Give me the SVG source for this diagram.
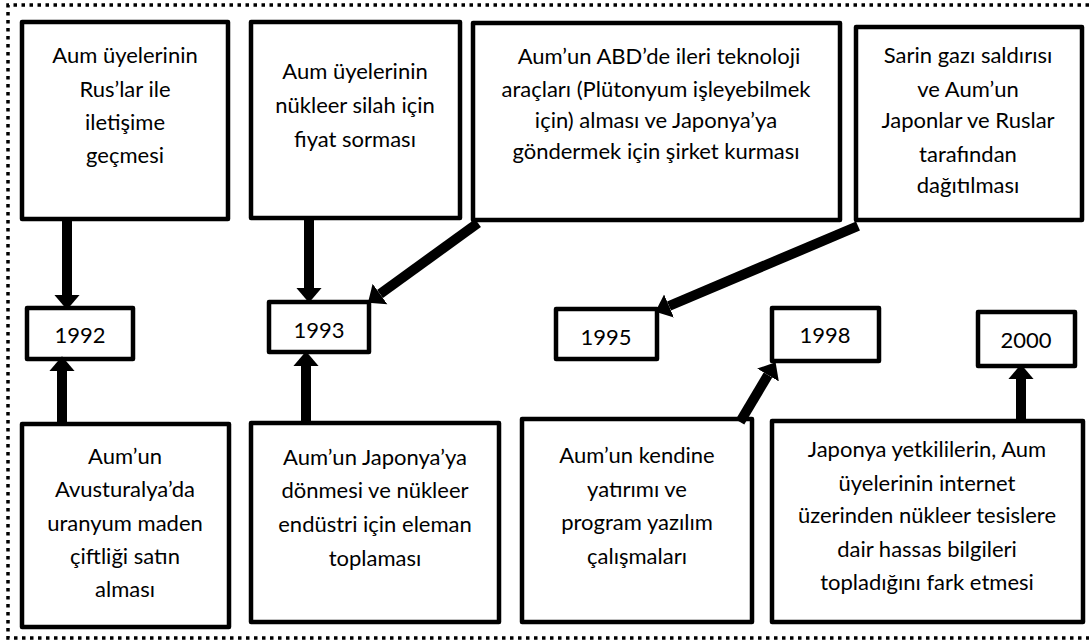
<svg xmlns="http://www.w3.org/2000/svg" width="1089" height="643" viewBox="0 0 1089 643">
<defs>
<style>
.box{fill:#fff;stroke:#000;stroke-width:4.5;stroke-linejoin:round}
.yr{fill:#fff;stroke:#000;stroke-width:4.5;stroke-linejoin:round}
text{font-family:Lato,"Liberation Sans",sans-serif;font-size:22px;fill:#000;text-anchor:middle}
.con line{stroke:#000;stroke-width:10;marker-end:url(#ah)}
.frame{fill:none;stroke:#000;stroke-width:3.5;stroke-dasharray:3.5 4.5}
</style>
<marker id="ah" markerUnits="userSpaceOnUse" markerWidth="16" markerHeight="26" refX="0" refY="11" orient="auto" viewBox="0 0 14 22">
<path d="M0,0 L13,11 L0,22 z" fill="#000"/>
</marker>
</defs>
<rect width="1089" height="643" fill="#fff"/>
<path class="frame" d="M1089,5 H8 V638 H1089"/>

<g id="n-a">
<rect class="box" x="22" y="22" width="206" height="197"/>
<text x="125" y="63">Aum üyelerinin</text>
<text x="125" y="97">Rus’lar ile</text>
<text x="125" y="130">iletişime</text>
<text x="125" y="163">geçmesi</text>
</g>
<g id="n-b">
<rect class="box" x="251" y="22" width="209" height="196"/>
<text x="355" y="79">Aum üyelerinin</text>
<text x="355" y="113">nükleer silah için</text>
<text x="355" y="147">fiyat sorması</text>
</g>
<g id="n-c">
<rect class="box" x="473" y="23" width="367" height="197"/>
<text x="659" y="64">Aum’un ABD’de ileri teknoloji</text>
<text x="656" y="97">araçları (Plütonyum işleyebilmek</text>
<text x="656" y="128">için) alması ve Japonya’ya</text>
<text x="656" y="159">göndermek için şirket kurması</text>
</g>
<g id="n-d">
<rect class="box" x="856" y="27" width="226" height="193"/>
<text x="968" y="63">Sarin gazı saldırısı</text>
<text x="968" y="97">ve Aum’un</text>
<text x="968" y="128">Japonlar ve Ruslar</text>
<text x="968" y="162">tarafından</text>
<text x="968" y="193">dağıtılması</text>
</g>

<g id="y-1992">
<rect class="yr" x="27" y="308" width="106" height="51"/>
<text x="80" y="343">1992</text>
</g>
<g id="y-1993">
<rect class="yr" x="269" y="302" width="100" height="50"/>
<text x="319" y="338">1993</text>
</g>
<g id="y-1995">
<rect class="yr" x="556" y="309" width="101" height="50"/>
<text x="606" y="345">1995</text>
</g>
<g id="y-1998">
<rect class="yr" x="772" y="308" width="107" height="53"/>
<text x="825" y="343">1998</text>
</g>
<g id="y-2000">
<rect class="yr" x="978" y="312" width="97" height="54"/>
<text x="1026" y="348">2000</text>
</g>

<g id="n-e">
<rect class="box" x="22" y="424" width="207" height="203"/>
<text x="125" y="464">Aum’un</text>
<text x="125" y="497">Avusturalya’da</text>
<text x="125" y="531">uranyum maden</text>
<text x="125" y="564">çiftliği satın</text>
<text x="125" y="597">alması</text>
</g>
<g id="n-f">
<rect class="box" x="251" y="423" width="248" height="199"/>
<text x="375" y="465">Aum’un Japonya’ya</text>
<text x="375" y="498">dönmesi ve nükleer</text>
<text x="375" y="532">endüstri için eleman</text>
<text x="375" y="566">toplaması</text>
</g>
<g id="n-g">
<rect class="box" x="522" y="419" width="230" height="203"/>
<text x="637" y="463">Aum’un kendine</text>
<text x="637" y="497">yatırımı ve</text>
<text x="637" y="530">program yazılım</text>
<text x="637" y="564">çalışmaları</text>
</g>
<g id="n-h">
<rect class="box" x="772" y="421" width="311" height="201"/>
<text x="927" y="457">Japonya yetkililerin, Aum</text>
<text x="927" y="491">üyelerinin internet</text>
<text x="927" y="523">üzerinden nükleer tesislere</text>
<text x="927" y="557">dair hassas bilgileri</text>
<text x="927" y="590">topladığını fark etmesi</text>
</g>

<g id="connectors" class="con">
<line x1="67" y1="220" x2="67" y2="295"/>
<line x1="62" y1="422" x2="62" y2="371"/>
<line x1="309" y1="220" x2="309" y2="288"/>
<line x1="306" y1="421" x2="306" y2="366"/>
<line x1="478" y1="223" x2="380" y2="294"/>
<line x1="858" y1="226" x2="669" y2="306"/>
<line x1="740" y1="422" x2="768" y2="375"/>
<line x1="1021" y1="421" x2="1021" y2="379"/>
</g>
</svg>
